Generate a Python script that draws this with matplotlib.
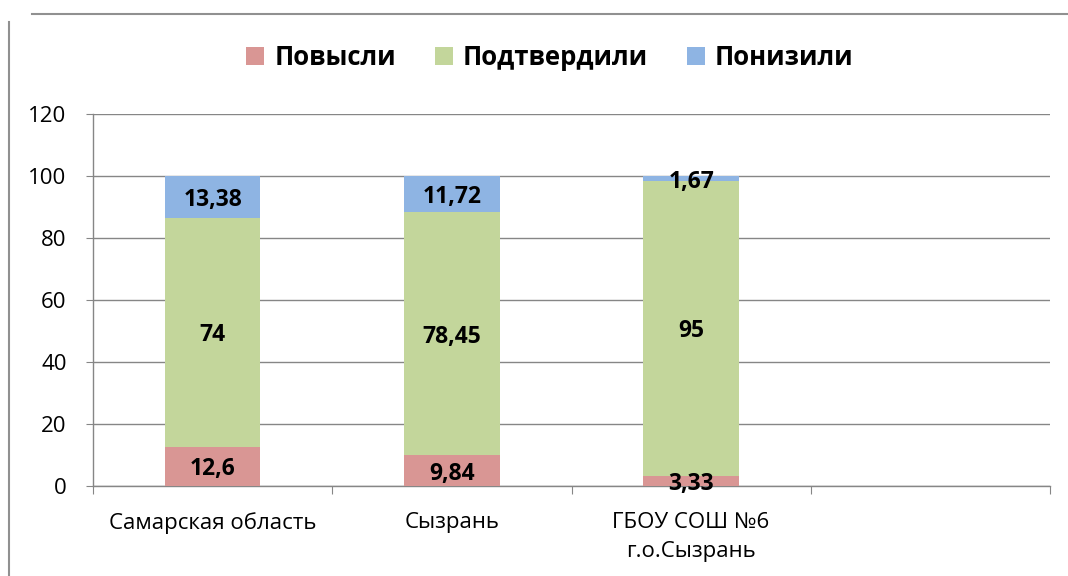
import matplotlib
matplotlib.use("Agg")
import matplotlib.pyplot as plt
from matplotlib.lines import Line2D
import numpy as np

categories = ["Самарская область", "Сызрань", "ГБОУ СОШ №6\nг.о.Сызрань", ""]
series_names = ["Повысли", "Подтвердили", "Понизили"]
povysili = [12.6, 9.84, 3.33]
podtverdili = [74, 78.45, 95]
ponizili = [13.38, 11.72, 1.67]
label_povysili = ["12,6", "9,84", "3,33"]
label_podtverdili = ["74", "78,45", "95"]
label_ponizili = ["13,38", "11,72", "1,67"]
colors = ["#D99694", "#C3D69B", "#8EB4E3"]
yticks = [0, 20, 40, 60, 80, 100, 120]

plt.rcParams['font.family'] = ['Open Sans', 'DejaVu Sans']

fig = plt.figure(figsize=(10.68, 5.76), dpi=100)
ax = fig.add_axes([93/1068, 1-486/576, (1050-93)/1068, (486-114)/576])

x = np.arange(len(povysili))
w = 0.4
bottoms = np.zeros(len(x))
handles = []
for vals, labs, col, name in zip([povysili, podtverdili, ponizili],
                                 [label_povysili, label_podtverdili, label_ponizili],
                                 colors, series_names):
    vals = np.array(vals, dtype=float)
    b = ax.bar(x, vals, w, bottom=bottoms, color=col, label=name, zorder=3)
    handles.append(b)
    for xi, v, bt, lab in zip(x, vals, bottoms, labs):
        ax.text(xi, bt + v/2, lab, ha='center', va='center_baseline', fontsize=16.5,
                fontweight='bold', color='black', zorder=5)
    bottoms = bottoms + vals

ax.set_xlim(-0.5, 3.5)
ax.set_ylim(0, 120)
ax.set_yticks(yticks)
ax.set_yticklabels([str(t) for t in yticks], fontsize=16)
ax.yaxis.grid(True, color='#868686', linewidth=1, zorder=0)
ax.set_axisbelow(True)

ax.set_xticks(np.arange(-0.5, 4.0, 1.0))
ax.set_xticklabels([])
ax.tick_params(axis='x', which='major', length=6, color='#868686', direction='out')
ax.tick_params(axis='y', length=5, color='#868686', direction='out', pad=14)
for i, c in enumerate(categories):
    if c:
        ax.text(i, -8.5, c, ha='center', va='top', fontsize=16,
                linespacing=1.45, transform=ax.transData)

for s in ['top', 'right']:
    ax.spines[s].set_visible(False)
for s in ['left', 'bottom']:
    ax.spines[s].set_color('#868686')
    ax.spines[s].set_linewidth(1)

fig.legend(handles=handles, labels=series_names, loc='center',
           bbox_to_anchor=(550/1068, 1-57/576), ncol=3, frameon=False,
           prop={'size': 18.5, 'weight': 'bold'}, handlelength=0.7,
           handleheight=0.7, handletextpad=0.4, columnspacing=1.5)

fig.add_artist(Line2D([9/1068, 9/1068], [0, 1-22/576], color='#909090', lw=1.5))
fig.add_artist(Line2D([32/1068, 1], [1-14/576, 1-14/576], color='#909090', lw=1.5))

fig.savefig("out.png", dpi=100)
